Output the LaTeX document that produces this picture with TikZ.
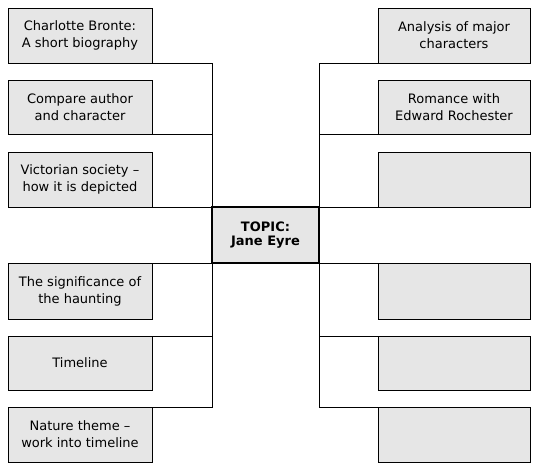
\documentclass[tikz,border=0pt]{standalone}
\usepackage{fontspec}
\setmainfont{DejaVu Sans}
\usetikzlibrary{backgrounds}
\definecolor{boxgray}{RGB}{230,230,230}
\begin{document}
\begin{tikzpicture}[x=1pt,y=-1pt,
  box/.style={draw=black,fill=boxgray,line width=1pt,inner sep=0pt,outer sep=0pt,
    align=center,font=\fontsize{13}{17}\selectfont},
  lbox/.style={box,minimum width=144pt},
  rbox/.style={box,minimum width=152pt},
  topic/.style={draw=black,fill=boxgray,line width=2pt,inner sep=0pt,outer sep=0pt,
    align=center,font=\fontsize{13}{14}\selectfont\bfseries,minimum width=107pt,minimum height=56pt},
  link/.style={draw=black,line width=1pt}]
\useasboundingbox (0,0) rectangle (541,472);
% left boxes
\node[lbox,minimum height=55pt] (L1) at (80,35.5) {Charlotte Bronte:\\A short biography};
\node[lbox,minimum height=54pt] (L2) at (80,107) {Compare author\\and character};
\node[lbox,minimum height=55pt] (L3) at (80,179.5) {Victorian society –\\how it is depicted};
\node[lbox,minimum height=56pt] (L4) at (80,291) {The significance of\\the haunting};
\node[lbox,minimum height=54pt] (L5) at (80,363) {Timeline};
\node[lbox,minimum height=55pt] (L6) at (80,434.5) {Nature theme –\\work into timeline};
% right boxes
\node[rbox,minimum height=55pt] (R1) at (454,35.5) {Analysis of major\\characters};
\node[rbox,minimum height=54pt] (R2) at (454,107) {Romance with\\Edward Rochester};
\node[rbox,minimum height=55pt] (R3) at (454,179.5) {};
\node[rbox,minimum height=56pt] (R4) at (454,291) {};
\node[rbox,minimum height=54pt] (R5) at (454,363) {};
\node[rbox,minimum height=55pt] (R6) at (454,434.5) {};
% topic
\node[topic] (C) at (265.5,235) {TOPIC:\\Jane Eyre};
% connectors behind the boxes
\begin{scope}[on background layer]
\path[link] (L1.south east) -| (C.west);
\path[link] (L2.south east) -- (L2.south east -| C.west);
\path[link] (L3.south east) -- (C.north west);
\path[link] (L4.north east) -- (C.south west);
\path[link] (L5.north east) -- (L5.north east -| C.west);
\path[link] (L6.north east) -| (C.west);
\path[link] (R1.south west) -| (C.east);
\path[link] (R2.south west) -- (R2.south west -| C.east);
\path[link] (R3.south west) -- (C.north east);
\path[link] (R4.north west) -- (C.south east);
\path[link] (R5.north west) -- (R5.north west -| C.east);
\path[link] (R6.north west) -| (C.east);
\end{scope}
\end{tikzpicture}
\end{document}
